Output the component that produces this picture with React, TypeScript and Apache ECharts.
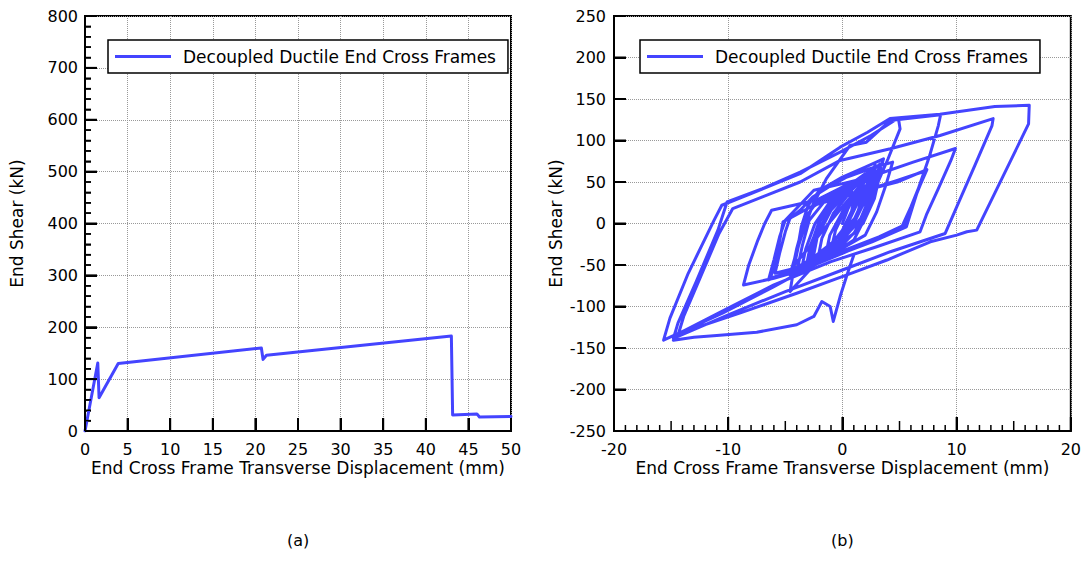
import React, { useEffect, useRef } from "react";
import * as echarts from "echarts";

const SERIES_NAME = "Decoupled Ductile End Cross Frames";
const X_NAME = "End Cross Frame Transverse Displacement (mm)";
const Y_NAME = "End Shear (kN)";
const CAPTIONS = ["(a)", "(b)"];

// (a) monotonic push
const monoDisp = [0, 1.5, 1.65, 3.9, 20.7, 20.9, 21.3, 43.0, 43.15, 46.0, 46.3, 50];
const monoShear = [0, 131, 64, 130, 160, 138, 146, 183, 31, 33, 27, 28];

// (b) cyclic response
const cycDisp = [
  0, 0.5, 1.1, 0.7, -0.3, -1.0, -0.6, 0.3, 1.5, 1.9, 1.4, 0.2, -1.5, -1.1, 0.0, 1.2, 2.3, 1.8, 0.6, -1.0,
  -2.2, -1.8, -0.8, 0.8, 2.1, 2.7, 2.2, 1.0, -0.6, -2.0, -2.8, -2.4, -1.4, 0.2, 1.6, 1.2, 0.0, -1.6, -3.2, -2.8,
  -1.9, -0.6, 1.2, 2.6, 2.9, 2.4, 1.2, -0.4, -2.0, -3.6, -3.2, -2.4, -1.2, 0.6, 2.0, 1.5, 0.4, -1.2, -2.6, -2.2,
  -1.0, 0.8, 2.4,
  -4.2, -3.8, -3.2, -2.0, 0.0, 2.0, 3.2, 2.7, 1.6, -0.4, -2.4, -4.4, -4.0, -3.4, -2.6, -0.8, 1.4, 3.3, 2.8, 1.8,
  0.0, -2.2, -3.0, -2.6, -1.8, -0.2, 1.8, 2.9, 2.4, 1.2, -0.8, -3.0, -3.9, -3.5, -2.9, -1.6, 0.4, 2.2,
  3.3, 2.7, 1.6, -0.6, -2.6, -4.58,
  -4.3, -3.9, -3.6, -3.0, -2.0, 0.0, 2.0, 3.6,
  3.0, 2.2, 1.0, -1.6, -3.6, -5.9,
  -5.5, -5.0, -4.6, -3.7, -2.6, -1.2, 0.4, 2.4, 4.4,
  3.8, 3.0, 2.0, -0.8, -3.6, -6.3,
  -5.8, -5.4, -5.2, -2.5, 0, 2.5, 4.8, 7.2,
  6.7, 6.0, 5.2, 3.0, 0, -3.5, -6.0, -8.66,
  -8.2, -7.4, -6.8, -6.2,
  -3.6, -0.5, 2.0, 4.8, 7.4,
  6.8, 6.1, 5.4, 3.2, 0.2, -2.8, -5.4, -6.47,
  -6.0, -5.5, -5.0,
  -2.5, 0, 2.4, 6.2, 9.9,
  9.5, 8.4, 7.4, 6.8,
  3, -1, -6, -10, -14.35,
  -13.9, -12.6, -10.8, -9.6,
  -7, -3.7, -0.2, 4.2, 8.55, 13.2,
  13.1, 11.6, 10.2, 9,
  4.2, 0, -5, -10, -14.8,
  -14.4, -12.8, -10.9, -10.1,
  -7, -3.7, -0.2, 2.5, 4.9,
  5.05, 4.0, 2.8, 2.1, 1.0, -1.5, -4.6,
  -4.1, -3.4, -2.6, -1.4, 0.67, 2.1, 4.17, 8.6,
  8.4, 7.6, 6.6, 5.6,
  2.6, -2, -6, -10.5, -15.66,
  -15.1, -13.5, -11.2, -10.56,
  -8, -3.7, -0.2, 2.2, 4.17, 8.54, 13.35, 16.36,
  16.3, 11.76, 10.9, 10, 7.7, 3.9, 0.4, -4, -9, -14.35, -14.8,
  -13, -11, -7.5, -4, -2.5, -1.8, -1.07, -0.8, -0.2, 0.4, 1.0,
];
const cycShear = [
  0, 18, 34, 8, -20, -32, -8, 18, 40, 46, 16, -20, -40, -14, 14, 38, 56, 26, -10, -32,
  -46, -18, 12, 40, 58, 64, 34, 0, -26, -40, -48, -20, 10, 36, 54, 26, -8, -36, -54, -26,
  4, 28, 50, 66, 70, 40, 6, -24, -42, -56, -30, 0, 24, 46, 60, 30, -2, -30, -44, -16,
  16, 42, 60,
  -50, -24, 8, 30, 44, 56, 62, 34, 4, -24, -40, -56, -30, 0, 20, 36, 50, 60, 30, 0,
  -26, -44, -48, -20, 12, 34, 52, 64, 36, 8, -22, -46, -52, -26, 4, 26, 44, 58,
  72, 42, 6, -30, -52, -82,
  -58, -28, -4, 22, 40, 56, 68, 78,
  50, 18, -12, -38, -52, -60,
  -36, -10, 6, 16, 32, 44, 56, 66, 74,
  46, 14, -14, -36, -54, -66,
  -42, -14, 2, 22, 32, 42, 52, 63,
  44, 20, -4, -18, -36, -56, -66, -74,
  -50, -20, 0, 16,
  24, 33, 40, 50, 65,
  46, 22, -2, -16, -32, -50, -62, -68,
  -44, -16, 4,
  40, 48, 56, 74, 90.3,
  76, 42, 12, -10,
  -28, -46, -74, -102, -132.5,
  -112, -70, -12, 18,
  32, 50, 76, 90, 106, 126.4,
  118, 70, 26, -12,
  -34, -56, -82, -110, -138.5,
  -120, -70, -8, 26,
  42, 62, 86, 106, 127,
  114, 78, 40, 10, -20, -42, -62,
  -38, -8, 22, 54, 94, 98, 124, 131,
  118, 80, 40, -4,
  -22, -46, -76, -108, -140.6,
  -114, -60, 5, 22,
  36, 60, 92, 110, 126.5, 131.7, 141, 142.5,
  120, -8, -10, -14, -22, -44, -62, -84, -108, -132.5, -140.6,
  -137, -135, -131, -122, -112, -94, -100, -118, -88, -62, -38,
];

// tick values
const xTicksA = [0, 5, 10, 15, 20, 25, 30, 35, 40, 45, 50];
const yTicksA = [0, 100, 200, 300, 400, 500, 600, 700, 800];
const xTicksB = [-20, -10, 0, 10, 20];
const yTicksB = [-250, -200, -150, -100, -50, 0, 50, 100, 150, 200, 250];

const FONT = "DejaVu Sans";
const BLUE = "#4444ff";

const LINE = { show: true, onZero: false, lineStyle: { color: "#000", width: 2 } };
const SPLIT = { show: true, lineStyle: { color: "#999", width: 1, type: "dotted" } };
const NAME_STYLE = { color: "#000", fontSize: 17, fontFamily: FONT };

function tickStyle(length: number) {
  return { show: true, inside: true, length, lineStyle: { color: "#000", width: 2 } };
}

function labelStyle(margin: number) {
  return { color: "#000", fontSize: 16, fontFamily: FONT, margin };
}

function legendAt(left: number) {
  return {
    left,
    top: 40,
    orient: "horizontal",
    padding: [8, 12, 8, 7],
    itemWidth: 56,
    itemHeight: 3,
    icon: "rect",
    borderColor: "#000",
    borderWidth: 1.5,
    backgroundColor: "#fff",
    textStyle: { fontSize: 17, fontFamily: FONT, color: "#000", padding: [0, 0, 0, 7] },
    data: [SERIES_NAME],
  };
}

// subdivide major tick values into minor ones
function between(majors: number[], parts: number, skipEvery: number) {
  const out: number[] = [];
  for (let i = 0; i < majors.length - 1; i++) {
    const a = majors[i], b = majors[i + 1];
    for (let k = 1; k < parts; k++) {
      if (skipEvery && k % skipEvery === 0) continue;
      out.push(a + ((b - a) * k) / parts);
    }
  }
  return out;
}

export default function App() {
  const ref = useRef<HTMLDivElement>(null);
  useEffect(() => {
    document.body.style.margin = "0";
    if (!ref.current) return;
    const chart = echarts.init(ref.current, undefined, { renderer: "svg" });

    const option = {
      animation: false,
      grid: [
        { left: 85, top: 16, width: 426, height: 415, show: true, borderColor: "#000", borderWidth: 2 },
        { left: 614, top: 16, width: 457, height: 415, show: true, borderColor: "#000", borderWidth: 2 },
      ],
      xAxis: [
        {
          type: "value", gridIndex: 0, min: 0, max: 50, interval: 5,
          axisTick: tickStyle(13), axisLine: LINE, splitLine: SPLIT,
          axisLabel: labelStyle(10),
          name: X_NAME, nameLocation: "middle", nameGap: 28, nameMoveOverlap: false, nameTextStyle: NAME_STYLE,
        },
        {
          type: "value", gridIndex: 1, min: -20, max: 20, interval: 10,
          axisTick: tickStyle(14), axisLine: LINE, splitLine: SPLIT,
          axisLabel: labelStyle(10),
          name: X_NAME, nameLocation: "middle", nameGap: 28, nameMoveOverlap: false, nameTextStyle: NAME_STYLE,
        },
      ],
      yAxis: [
        {
          type: "value", gridIndex: 0, min: 0, max: 800, interval: 100,
          axisTick: tickStyle(12), axisLine: LINE, splitLine: SPLIT,
          minorTick: { show: true, splitNumber: 5, length: 6, lineStyle: { color: "#000", width: 1.5 } },
          axisLabel: labelStyle(7),
          name: Y_NAME, nameLocation: "middle", nameGap: 60, nameMoveOverlap: false, nameTextStyle: NAME_STYLE,
        },
        {
          type: "value", gridIndex: 1, min: -250, max: 250, interval: 50,
          axisTick: tickStyle(12), axisLine: LINE, splitLine: SPLIT,
          axisLabel: labelStyle(8),
          name: Y_NAME, nameLocation: "middle", nameGap: 50, nameMoveOverlap: false, nameTextStyle: NAME_STYLE,
        },
      ],
      legend: [legendAt(108), legendAt(640)],
      series: [
        {
          name: SERIES_NAME, type: "line", xAxisIndex: 0, yAxisIndex: 0,
          data: monoDisp.map((x, i) => [x, monoShear[i]]),
          showSymbol: false, symbol: "none",
          lineStyle: { color: BLUE, width: 3, join: "round", cap: "round" },
          itemStyle: { color: BLUE },
        },
        {
          name: SERIES_NAME, type: "line", xAxisIndex: 1, yAxisIndex: 1,
          data: cycDisp.map((x, i) => [x, cycShear[i]]),
          showSymbol: false, symbol: "none",
          lineStyle: { color: BLUE, width: 3, join: "round", cap: "round" },
          itemStyle: { color: BLUE },
        },
      ],
    };
    chart.setOption(option as any);

    // tick marks as thin filled bars placed through the axes' own scales
    const marks: any[] = [];
    const toPx = (grid: number, pt: number[]) =>
      chart.convertToPixel({ xAxisIndex: grid, yAxisIndex: grid } as any, pt) as unknown as number[];
    const addX = (grid: number, values: number[], yMin: number, len: number, w: number) => {
      values.forEach((v) => {
        const p = toPx(grid, [v, yMin]);
        if (!p || !isFinite(p[0]) || !isFinite(p[1])) return;
        marks.push({ type: "rect", silent: true, z: 50, shape: { x: p[0] - w / 2, y: p[1] - len, width: w, height: len }, style: { fill: "#000" } });
      });
    };
    const addY = (grid: number, values: number[], xMin: number, len: number, w: number) => {
      values.forEach((v) => {
        const p = toPx(grid, [xMin, v]);
        if (!p || !isFinite(p[0]) || !isFinite(p[1])) return;
        marks.push({ type: "rect", silent: true, z: 50, shape: { x: p[0], y: p[1] - w / 2, width: len, height: w }, style: { fill: "#000" } });
      });
    };
    addX(0, xTicksA, 0, 13, 2);
    addY(0, yTicksA, 0, 12, 2);
    addY(0, between(yTicksA, 5, 0), 0, 6, 1.5);
    addX(1, xTicksB, -250, 14, 2);
    addX(1, between(xTicksB, 2, 0), -250, 10, 1.5);
    addX(1, between(xTicksB, 10, 5), -250, 6, 1.5);
    addY(1, yTicksB, -20, 12, 2);

    chart.setOption({
      graphic: {
        elements: [
          { type: "text", left: 287, top: 532, style: { text: CAPTIONS[0], fontSize: 16, fontFamily: FONT, fill: "#000" } },
          { type: "text", left: 831, top: 532, style: { text: CAPTIONS[1], fontSize: 16, fontFamily: FONT, fill: "#000" } },
          ...marks,
        ],
      },
    } as any);
    return () => chart.dispose();
  }, []);
  return <div ref={ref} style={{ width: 1084, height: 569 }} />;
}
